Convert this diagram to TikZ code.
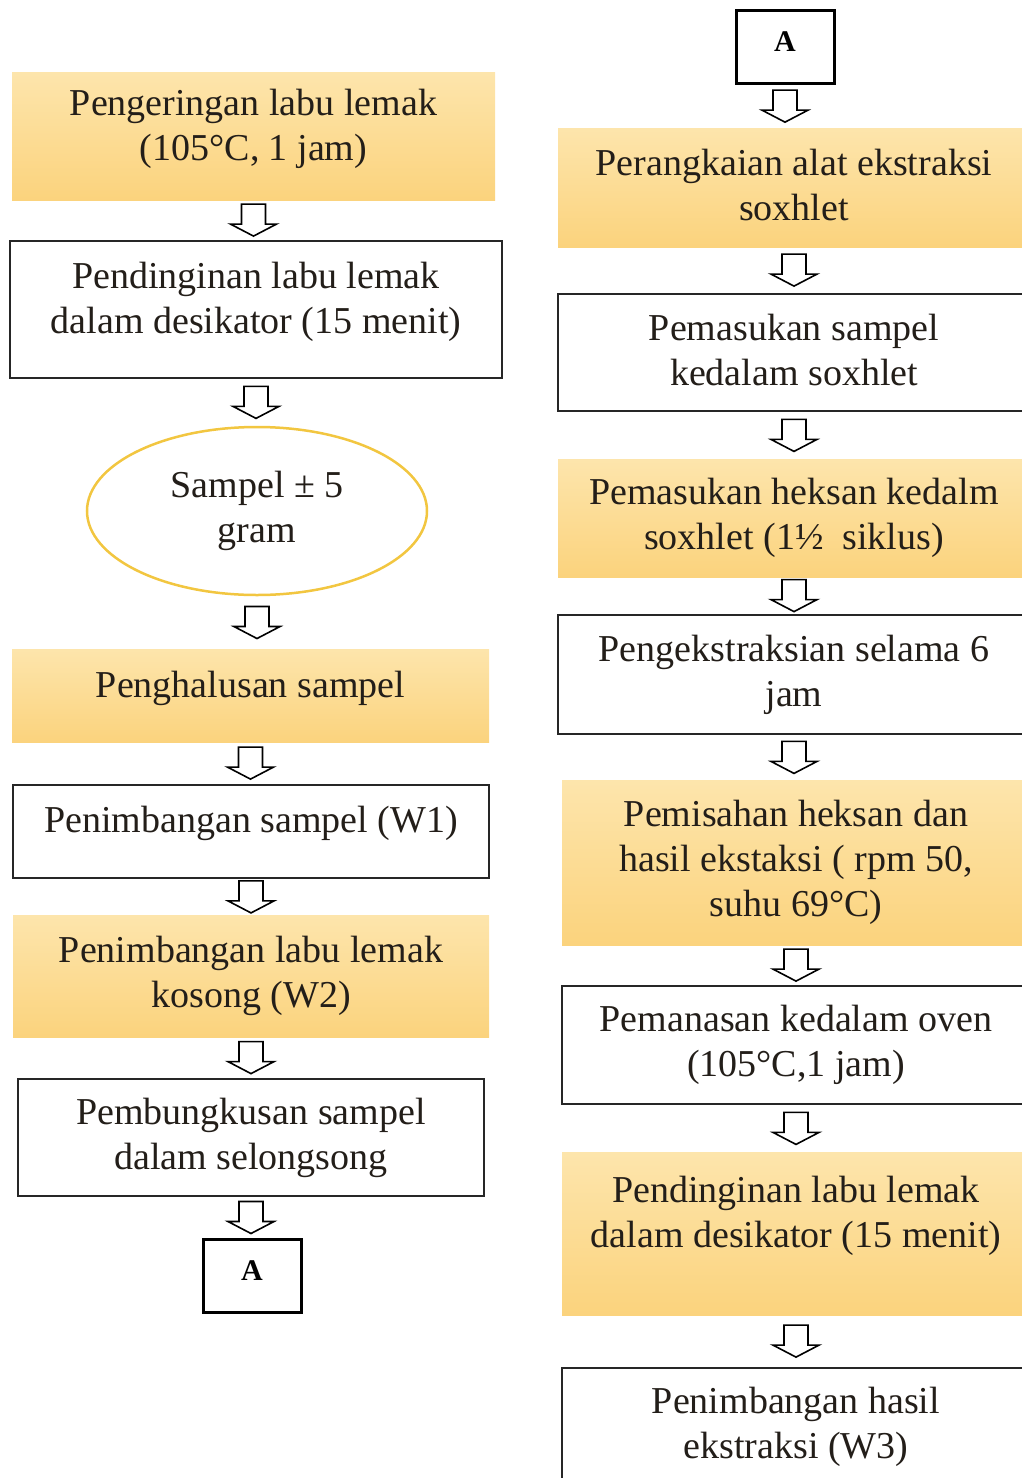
\documentclass[tikz,border=0pt]{standalone}
\usepackage{fontspec}
\setmainfont{Liberation Serif}
\usetikzlibrary{shapes.geometric,calc}

\definecolor{orangetop}{RGB}{253,229,172}
\definecolor{orangebot}{RGB}{251,211,125}
\definecolor{ovalline}{RGB}{242,198,64}
\definecolor{inktext}{RGB}{35,30,25}

\tikzset{
  stepbase/.style={align=center, text=inktext, font=\fontsize{38}{45}\selectfont, inner sep=0pt},
  fillbox/.style={stepbase, rectangle, top color=orangetop, bottom color=orangebot, draw=none},
  linebox/.style={stepbase, rectangle, draw=black!85, line width=2pt, fill=white},
  ovalbox/.style={stepbase, ellipse, draw=ovalline, line width=2.5pt, fill=white},
  labelbox/.style={rectangle, draw=black, line width=3pt, fill=white, text depth=10pt,
    font=\fontsize{30}{36}\selectfont\bfseries, minimum width=98, minimum height=73},
  blockarrow/.style={draw=black, line width=1.6pt, fill=white, line join=miter},
  lift/.style={text depth=#1}
}

% hollow down arrow between two boxes
\newcommand{\flowarrow}[2]{%
  \draw[blockarrow] let \p1=(#1.south), \p2=(#2.north), \n1={0.5*\y1+0.5*\y2} in
    (\x1-12pt,\n1+16pt) -- (\x1+12pt,\n1+16pt) -- (\x1+12pt,\n1-4pt) -- (\x1+23pt,\n1-4pt)
    -- (\x1,\n1-16pt) -- (\x1-23pt,\n1-4pt) -- (\x1-12pt,\n1-4pt) -- cycle;}

\begin{document}
\begin{tikzpicture}[x=1pt,y=-1pt]
\useasboundingbox (0,0) rectangle (1022,1478);
\clip (0,0) rectangle (1022,1478);

% left column
\node[fillbox, lift=22pt, minimum width=483, minimum height=128] (dry) at (253.5,136) {Pengeringan labu lemak\\(105°C, 1 jam)};
\node[linebox, lift=24pt, minimum width=492, minimum height=137] (cool) at (256,309.5) {Pendinginan labu lemak\\dalam desikator (15 menit)};
\node[ovalbox, minimum width=340, minimum height=168] (sample) at (257,511) {Sampel ± 5\\gram};
\node[fillbox, lift=22pt, minimum width=477, minimum height=93] (grind) at (250.5,695.5) {Penghalusan sampel};
\node[linebox, lift=24pt, minimum width=476, minimum height=93] (weighA) at (251,831.5) {Penimbangan sampel (W1)};
\node[fillbox, minimum width=476, minimum height=122] (weighB) at (251,976) {Penimbangan labu lemak\\kosong (W2)};
\node[linebox, minimum width=466, minimum height=117] (wrap) at (251,1137.5) {Pembungkusan sampel\\dalam selongsong};
\node[labelbox] (linkA) at (252,1276) {A};

% right column
\node[labelbox] (linkB) at (785,46.5) {A};
\node[fillbox, lift=6pt, minimum width=472, minimum height=119] (setup) at (794,187.5) {Perangkaian alat ekstraksi\\soxhlet};
\node[linebox, lift=6pt, minimum width=472, minimum height=117] (load) at (794,352.5) {Pemasukan sampel\\kedalam soxhlet};
\node[fillbox, minimum width=472, minimum height=118] (hexane) at (794,518) {Pemasukan heksan kedalm\\soxhlet (1½\ \ siklus)};
\node[linebox, minimum width=472, minimum height=119] (extract) at (794,674.5) {Pengekstraksian selama 6\\jam};
\node[fillbox, minimum width=468, minimum height=165] (separate) at (796,862.5) {Pemisahan heksan dan\\hasil ekstaksi ( rpm 50,\\suhu 69°C)};
\node[linebox, minimum width=468, minimum height=118] (oven) at (796,1045) {Pemanasan kedalam oven\\(105°C,1 jam)};
\node[fillbox, lift=44pt, minimum width=468, minimum height=163] (cool2) at (796,1233.5) {Pendinginan labu lemak\\dalam desikator (15 menit)};
\node[linebox, minimum width=468, minimum height=118] (weighC) at (796,1427) {Penimbangan hasil\\ekstraksi (W3)};

\flowarrow{dry}{cool}
\flowarrow{cool}{sample}
\flowarrow{sample}{grind}
\flowarrow{grind}{weighA}
\flowarrow{weighA}{weighB}
\flowarrow{weighB}{wrap}
\flowarrow{wrap}{linkA}
\flowarrow{linkB}{setup}
\flowarrow{setup}{load}
\flowarrow{load}{hexane}
\flowarrow{hexane}{extract}
\flowarrow{extract}{separate}
\flowarrow{separate}{oven}
\flowarrow{oven}{cool2}
\flowarrow{cool2}{weighC}
\end{tikzpicture}
\end{document}
